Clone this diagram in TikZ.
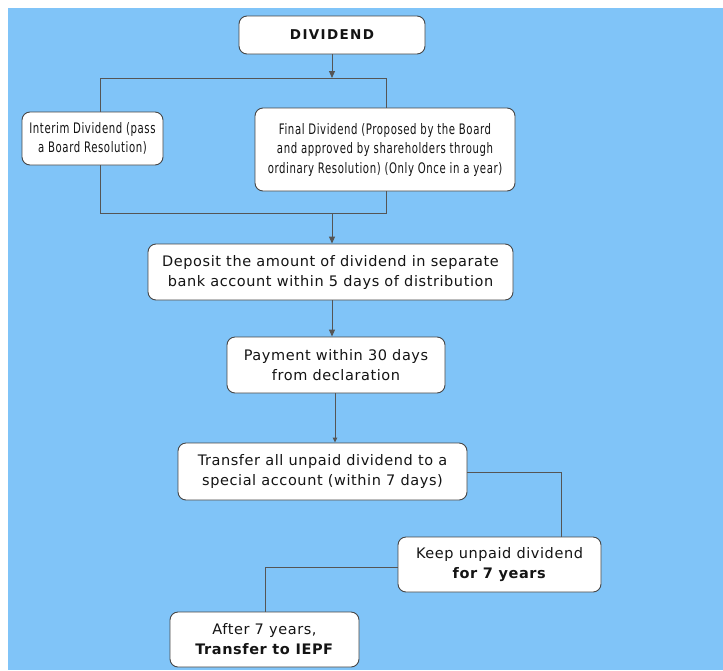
\documentclass[tikz,border=0pt]{standalone}
\usepackage{fontspec}
\setmainfont{DejaVu Sans}[LetterSpace=4]
\newfontfamily\narrowfont{DejaVu Sans}[FakeStretch=0.70,LetterSpace=4]
\usetikzlibrary{arrows.meta}
\definecolor{bgblue}{RGB}{128,196,248}
\definecolor{boxline}{RGB}{70,70,70}
\definecolor{linkcol}{RGB}{85,85,85}
\definecolor{textcol}{RGB}{20,20,20}

\begin{document}
\begin{tikzpicture}[x=1pt,y=-1pt,
  box/.style={draw=boxline, fill=white, rounded corners=8pt, line width=0.9pt,
    inner sep=0pt, align=center, text=textcol,
    font=\fontsize{14.5}{20}\selectfont},
  narrowbox/.style={box, font=\narrowfont\fontsize{14.5}{19.5}\selectfont},
  link/.style={draw=linkcol, line width=1pt},
  arr/.style={link, -{Triangle[length=7pt,width=6pt]}},
  smallarr/.style={link, -{Triangle[length=5pt,width=4.5pt]}},
]
% page and blue panel
\fill[white] (0,0) rectangle (723,670);
\fill[bgblue] (8,8) rectangle (723,670);
\useasboundingbox (0,0) rectangle (723,670);

% boxes
\node[box, minimum width=186pt, minimum height=38pt,
  font=\fontsize{13.5}{16}\selectfont\bfseries\addfontfeature{LetterSpace=10}]
  (div) at (332,35) {DIVIDEND};
\node[narrowbox, minimum width=141pt, minimum height=53pt] (interim) at (92.5,138.5)
  {Interim Dividend (pass\\a Board Resolution)};
\node[narrowbox, minimum width=260pt, minimum height=83pt] (final) at (385,149.5)
  {Final Dividend (Proposed by the Board\\and approved by shareholders through\\ordinary Resolution) (Only Once in a year)};
\node[box, minimum width=365pt, minimum height=56pt] (deposit) at (330.5,272)
  {Deposit the amount of dividend in separate\\bank account within 5 days of distribution};
\node[box, minimum width=218pt, minimum height=56pt] (payment) at (336,365)
  {Payment within 30 days\\from declaration};
\node[box, minimum width=289pt, minimum height=57pt] (transfer) at (322.5,471.5)
  {Transfer all unpaid dividend to a\\special account (within 7 days)};
\node[box, minimum width=203pt, minimum height=55pt] (keep) at (499.5,564.5)
  {Keep unpaid dividend\\\textbf{for 7 years}};
\node[box, minimum width=189pt, minimum height=55pt] (after) at (264.5,639.5)
  {After 7 years,\\\textbf{Transfer to IEPF}};

% junction points
\coordinate (split) at (332,78);
\coordinate (sl) at (100,78);
\coordinate (sr) at (386,78);
\coordinate (jl) at (100,213);
\coordinate (jr) at (386,213);
\coordinate (join) at (332,213);
\coordinate (pt) at (335,0);
\coordinate (tk) at (561,472);
\coordinate (ka) at (265,567);

% connectors
\draw[arr] (div.south -| split) -- (split);
\draw[link] (interim.north -| sl) -- (sl) -- (sr) -- (final.north -| sr);
\draw[link] (interim.south -| jl) -- (jl) -- (jr) -- (final.south -| jr);
\draw[arr] (join) -- (deposit.north -| join);
\draw[arr] (deposit.south -| join) -- (payment.north -| join);
\draw[smallarr] (payment.south -| pt) -- (transfer.north -| pt);
\draw[link] (transfer.east |- tk) -- (tk) -- (keep.north -| tk);
\draw[link] (keep.west |- ka) -- (ka) -- (after.north -| ka);
\end{tikzpicture}
\end{document}
